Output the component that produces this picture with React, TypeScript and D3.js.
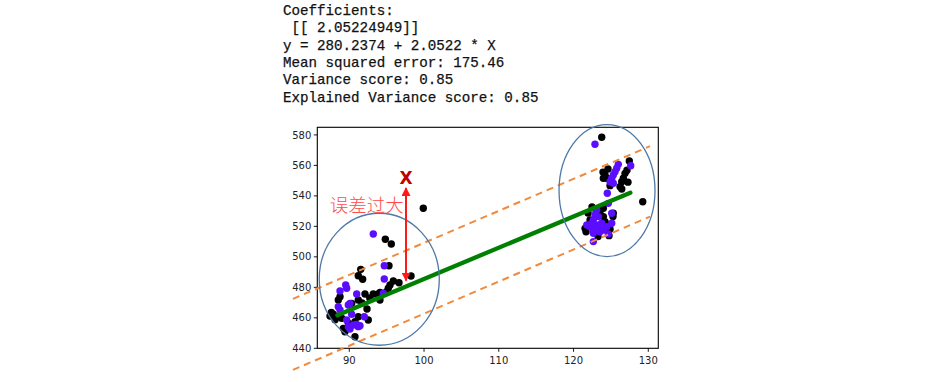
import React from "react";
import * as d3 from "d3";

const reportLines = [
  "Coefficients:",
  " [[ 2.05224949]]",
  "y = 280.2374 + 2.0522 * X",
  "Mean squared error: 175.46",
  "Variance score: 0.85",
  "Explained Variance score: 0.85",
];

const xTicks = [90, 100, 110, 120, 130];
const yTicks = [440, 460, 480, 500, 520, 540, 560, 580];

// actual values (black)
const blackPoints: [number, number][] = [
  [99.9, 531.9], [94.82, 511.5], [95.62, 508.4], [91.53, 491.8], [95.31, 494.2],
  [91.2, 487.6], [91.79, 485.3], [95.89, 484.2], [95.45, 481.5], [95.22, 479.4],
  [95.0, 477.1], [98.26, 487.4], [92.1, 475.6], [93.21, 475.6], [93.88, 475.6],
  [94.11, 476.7], [88.76, 473.9], [88.53, 471.7], [91.2, 471.7], [90.32, 469.5],
  [87.86, 462.3], [88.31, 460.7], [88.98, 459.7], [91.2, 460.7], [92.54, 458.6],
  [89.87, 456.4], [90.76, 457.5], [89.2, 453.1], [89.42, 450.9], [90.76, 447.6],
  [92.74, 473.0], [87.42, 461.2], [91.7, 469.7], [92.37, 465.8], [96.65, 483.0],
  [94.1, 471.7], [87.6, 463.5], [88.1, 458.8],
  [123.77, 578.5], [127.46, 562.9], [124.21, 553.7], [124.44, 551.6], [123.99, 551.6],
  [126.89, 554.8], [126.66, 551.6], [126.45, 549.3], [126.22, 546.0], [124.88, 546.7],
  [126.45, 544.5], [129.26, 536.2], [121.77, 519.8], [121.54, 518.7], [123.54, 528.8],
  [123.99, 526.4], [124.21, 523.1], [124.65, 520.9], [125.32, 528.6], [123.99, 531.9],
  [124.88, 518.1], [123.0, 530.8], [122.21, 524.2],
  [123.94, 555.6], [124.61, 557.6], [127.15, 556.9], [127.28, 549.0], [121.94, 528.8],
  [122.47, 532.7], [125.28, 526.4], [124.75, 513.9], [123.28, 513.3], [121.67, 516.5],
];

// second series (purple)
const purplePoints: [number, number][] = [
  [93.21, 515.0], [94.68, 494.2], [94.68, 485.5], [89.52, 481.5], [89.65, 479.4],
  [88.76, 477.6], [90.99, 475.6], [94.55, 476.1], [90.09, 469.5], [89.87, 468.4],
  [88.53, 467.3], [88.76, 465.1], [90.32, 462.3], [89.65, 458.6], [92.01, 460.7],
  [89.87, 454.2], [90.54, 455.3], [90.99, 455.7], [91.2, 454.2], [91.43, 454.8],
  [90.09, 452.7],
  [122.87, 573.9], [127.65, 559.8], [125.99, 560.7], [125.78, 558.1], [125.55, 555.9],
  [125.32, 553.7], [125.11, 551.6], [124.88, 549.3], [125.32, 548.3], [124.52, 541.7],
  [124.65, 535.1], [123.1, 530.8], [122.87, 527.5], [123.32, 526.4], [122.65, 524.2],
  [122.43, 522.0], [122.21, 519.8], [122.65, 519.8], [123.32, 520.9], [123.77, 522.0],
  [123.1, 517.6], [122.65, 515.5], [123.54, 516.5], [123.99, 517.6], [124.44, 519.8],
  [125.11, 522.0], [125.11, 528.6], [121.77, 520.9], [124.65, 515.0], [122.65, 510.0],
  [122.65, 516.5],
];

// regression line (predictions) endpoints
const predX = [88.4, 127.6];
const predY = [461.7, 542.1];

// dashed bounds
const boundX = [82.46, 130.23];
const upperY = [472.4, 572.6];
const lowerY = [425.8, 526.4];

// ellipses: [cx, cy, rx, ry] in data units
const ellipses: [number, number, number, number][] = [
  [94.01, 485.3, 8.03, 43.3],
  [124.48, 543.5, 6.42, 43.3],
];

// annotation
const arrowX = 97.59;
const arrowY = [484.4, 545.2];
const labelX = 87.4;
const labelY = 529.4;
const labelText = "误差过大";

export default function App() {
  const W = 947, H = 382;
  const left = 317.3, right = 658.3, top = 127.3, bottom = 348.3;
  const x = d3.scaleLinear().domain([85.72, 131.34]).range([left, right]);
  const y = d3.scaleLinear().domain([440, 585]).range([bottom, top]);
  const line = d3.line<[number, number]>().x(d => x(d[0])).y(d => y(d[1]));
  const purple = "#5a0dff";
  const orange = "#f28a3c";
  const red = "#ff1a1a";

  const upper: [number, number][] = boundX.map((v, i) => [v, upperY[i]]);
  const lower: [number, number][] = boundX.map((v, i) => [v, lowerY[i]]);
  const pred: [number, number][] = predX.map((v, i) => [v, predY[i]]);

  return (
    <svg width={W} height={H} style={{ position: "absolute", left: 0, top: 0, background: "#fff" }}>
      <rect width={W} height={H} fill="#fff" />
      {reportLines.map((t, i) => (
        <text key={i} x={283} y={15 + i * 17.3} fontFamily="'Liberation Mono', monospace" fontSize={14.2}
          fill="#111" stroke="#111" strokeWidth={0.25} style={{ whiteSpace: "pre" }}>{t}</text>
      ))}

      {/* points */}
      {blackPoints.map((p, i) => (
        <circle key={"b" + i} cx={x(p[0])} cy={y(p[1])} r={3.7} fill="#000" />
      ))}
      {purplePoints.map((p, i) => (
        <circle key={"p" + i} cx={x(p[0])} cy={y(p[1])} r={3.7} fill={purple} />
      ))}
      <path d={line(pred) || ""} stroke="#008000" strokeWidth={4.3} strokeLinecap="round" fill="none" />

      {/* axes */}
      <rect x={left} y={top} width={right - left} height={bottom - top} fill="none" stroke="#000" strokeWidth={1.1} />
      {xTicks.map(t => (
        <g key={"x" + t}>
          <line x1={x(t)} x2={x(t)} y1={bottom} y2={bottom + 3.5} stroke="#000" strokeWidth={0.9} />
          <text x={x(t)} y={bottom + 15.5} textAnchor="middle" fontFamily="'DejaVu Sans', sans-serif" fontSize={10} fill="#222">{t}</text>
        </g>
      ))}
      {yTicks.map(t => (
        <g key={"y" + t}>
          <line x1={left - 3.5} x2={left} y1={y(t)} y2={y(t)} stroke="#000" strokeWidth={0.9} />
          <text x={left - 6} y={y(t) + 3.6} textAnchor="end" fontFamily="'DejaVu Sans', sans-serif" fontSize={10} fill="#222">{t}</text>
        </g>
      ))}

      {/* dashed bounds */}
      <path d={line(upper) || ""} stroke={orange} strokeWidth={2} strokeDasharray="7,5" fill="none" />
      <path d={line(lower) || ""} stroke={orange} strokeWidth={2} strokeDasharray="7,5" fill="none" />

      {/* ellipses */}
      {ellipses.map((e, i) => (
        <ellipse key={"e" + i} cx={x(e[0])} cy={y(e[1])} rx={x(e[0] + e[2]) - x(e[0])} ry={y(e[1]) - y(e[1] + e[3])}
          fill="none" stroke="#4d79a6" strokeWidth={1.3} />
      ))}

      {/* arrow */}
      <defs>
        <marker id="ah" viewBox="0 0 10 10" refX="9" refY="5" markerWidth="4.5" markerHeight="4.5" orient="auto-start-reverse">
          <path d="M0,0 L10,5 L0,10 z" fill={red} />
        </marker>
      </defs>
      <line x1={x(arrowX)} x2={x(arrowX)} y1={y(arrowY[0])} y2={y(arrowY[1])} stroke={red} strokeWidth={2}
        markerStart="url(#ah)" markerEnd="url(#ah)" />
      <text x={x(arrowX)} y={y(arrowY[1]) - 4} textAnchor="middle" fontFamily="'DejaVu Sans', sans-serif"
        fontWeight="bold" fontSize={17} fill="#c00000">X</text>
      <text x={x(labelX)} y={y(labelY)} fontFamily="'Noto Sans CJK SC', sans-serif" fontSize={18.5} fill="#ff4a4a"
        fontWeight={300}>{labelText}</text>
    </svg>
  );
}
